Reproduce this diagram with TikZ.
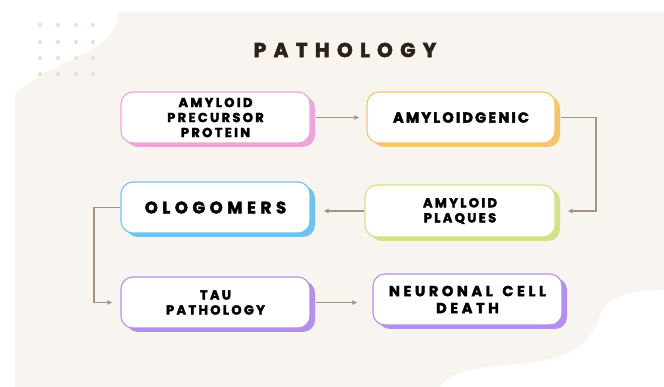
\documentclass[tikz,border=0pt]{standalone}
\usepackage{fontspec}
\setmainfont{Poppins}
\usetikzlibrary{shadows,arrows.meta}
\definecolor{bg}{HTML}{F8F4EF}
\definecolor{dotc}{HTML}{EBDFCF}
\definecolor{titlec}{HTML}{2E2118}
\definecolor{pinkc}{HTML}{EFA3DA}
\definecolor{orangec}{HTML}{F7C46E}
\definecolor{greenc}{HTML}{D0E487}
\definecolor{bluec}{HTML}{6FC4EF}
\definecolor{purplec}{HTML}{B38FEE}
\definecolor{arrowc}{HTML}{A8927F}
\newcommand{\boxfont}[3]{\bfseries\addfontfeatures{LetterSpace=#1,FakeBold=2.5}\fontsize{#2}{#3}\selectfont}
\begin{document}
\begin{tikzpicture}[x=1pt,y=-1pt,
  box/.style={rectangle, rounded corners=12pt, fill=white, draw=#1, line width=1.1pt,
    minimum width=189pt, minimum height=51pt, inner sep=0pt, align=center,
    general shadow={shadow xshift=5pt, shadow yshift=-4pt, fill=#1}},
  smalltxt/.style={font=\boxfont{18}{13}{15}, text=black},
  conn/.style={draw=arrowc, line width=1.2pt, -{Latex[length=5pt,width=5pt]}}]
\useasboundingbox (0,0) rectangle (664,387);
\fill[white] (0,0) rectangle (664,387);
\fill[bg] (15,12) rectangle (664,387);
\fill[white] (15,12) -- (119,12) .. controls (115,45) and (80,55) .. (55,67)
  .. controls (35,77) and (25,85) .. (15,95) -- cycle;
\fill[white] (440,387) .. controls (450,372) and (470,368) .. (520,364)
  .. controls (570,360) and (590,345) .. (600,315) .. controls (610,295) and (630,290) .. (664,290)
  -- (664,387) -- cycle;
\foreach \xx in {40,58,76,93}
  \foreach \yy in {25,42,58,74}
    \fill[dotc] (\xx,\yy) circle (2pt);
\node[font=\boxfont{37}{20}{23}, text=titlec] (title) at (345,50) {PATHOLOGY};
\node[box=pinkc, smalltxt] (app) at (215.5,117.5) {AMYLOID\\PRECURSOR\\PROTEIN};
\node[box=orangec, minimum width=188pt, font=\boxfont{15}{14.5}{17}, text=black] (amg) at (461,117.5) {AMYLOIDGENIC};
\node[box=greenc, minimum width=190pt, minimum height=52pt, smalltxt] (plq) at (460,211) {AMYLOID\\PLAQUES};
\node[box=bluec, font=\boxfont{28}{16.5}{19}, text=black] (olo) at (215.5,207.5) {OLOGOMERS};
\node[box=purplec, smalltxt] (tau) at (215.5,302.5) {TAU\\PATHOLOGY};
\node[box=purplec, font=\boxfont{25}{14.5}{17}, text=black] (neu) at (467.5,299.5) {NEURONAL\hspace{3pt} CELL\\DEATH};
\coordinate (k1) at (596,0);
\coordinate (k2) at (94,0);
\draw[conn] ([xshift=5pt]app.east) -- ([xshift=-7pt]amg.west);
\draw[conn] ([xshift=5pt]amg.east) -| (k1 |- plq.east) -- ([xshift=12pt]plq.east);
\draw[conn] (plq.west) -- ([xshift=13pt]plq.west -| olo.east);
\draw[conn] (olo.west) -| (k2 |- tau.west) -- ([xshift=-8pt]tau.west);
\draw[conn] ([xshift=5pt]tau.east) -- ([xshift=-15pt]tau.east -| neu.west);
\end{tikzpicture}
\end{document}
